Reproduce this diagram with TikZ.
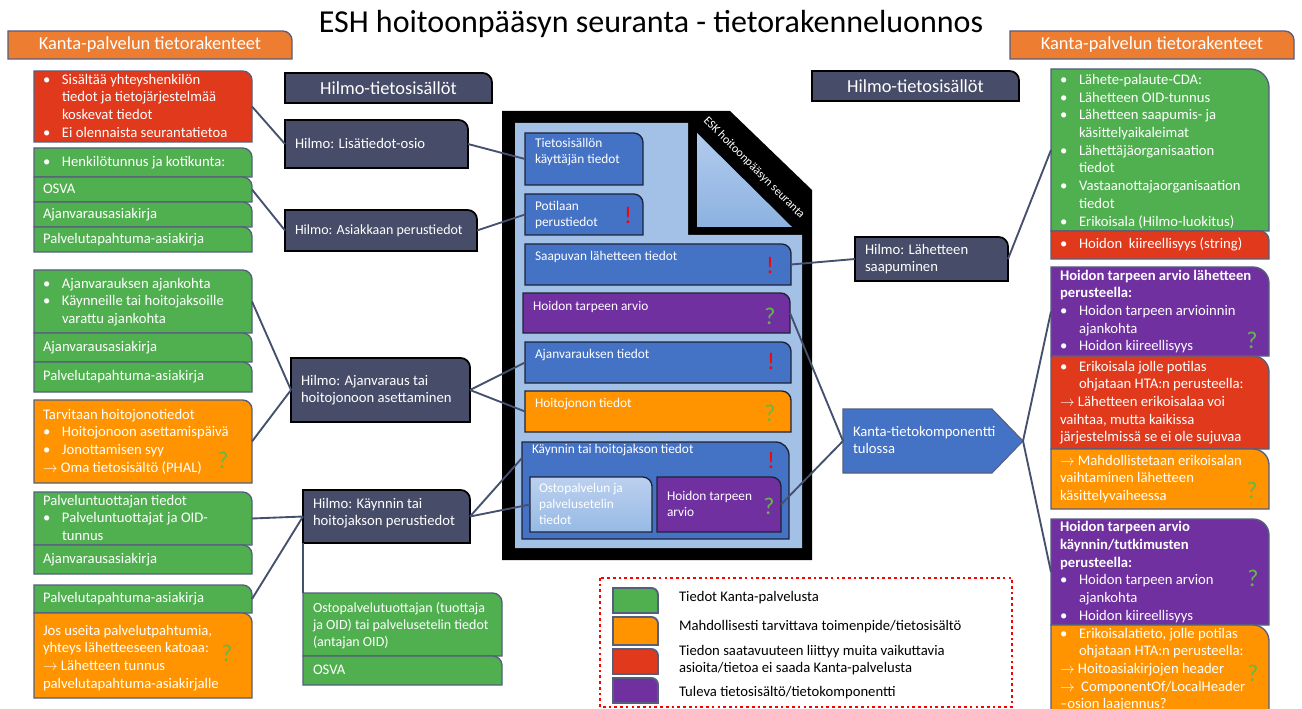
\documentclass[tikz,border=0pt]{standalone}
\usepackage{fontspec}
\setmainfont{Carlito}
\usetikzlibrary{fit}
\definecolor{cgreen}{RGB}{80,176,80}
\definecolor{cred}{RGB}{224,57,28}
\definecolor{corange}{RGB}{255,148,0}
\definecolor{chead}{RGB}{237,125,49}
\definecolor{cpurple}{RGB}{112,48,160}
\definecolor{cblue}{RGB}{68,114,196}
\definecolor{cslate}{RGB}{71,76,104}
\definecolor{cbord}{RGB}{85,95,125}
\definecolor{cdark}{RGB}{30,35,55}
\definecolor{clight}{RGB}{163,193,230}
\definecolor{cline}{RGB}{68,80,110}
\definecolor{cq}{RGB}{100,185,70}
\newcommand\fbody{\fontsize{11}{13.3}\selectfont}
\newcommand\fsmall{\fontsize{10.5}{12.4}\selectfont}
\newcommand\finner{\fontsize{10}{12}\selectfont}
\newcommand\fleg{\fontsize{11}{12.8}\selectfont}
\newcommand\fhead{\fontsize{13.8}{16}\selectfont}
\newcommand\ftitle{\fontsize{24}{28}\selectfont}
\newcommand\fdoc{\fontsize{9}{11}\selectfont}
\newcommand\fsign{\fontsize{18}{20}\selectfont}
\newcommand\bul{\makebox[14.25pt][l]{\textbullet}}
\newcommand\indd{\hspace*{14.25pt}}
\newcommand\arr{$\rightarrow$}
\newcommand\bx[7][7pt]{%
  \node[inner sep=0pt, outer sep=0pt, fit={(#3,#4) (#5,#6)}] (#2) {};
  \path[#7] (#2.north west) -- ([xshift=-#1]#2.north east)
    .. controls ([xshift=-0.45*#1]#2.north east) and ([yshift=-0.45*#1]#2.north east) ..
    ([yshift=-#1]#2.north east) -- (#2.south east) -- (#2.south west) -- cycle;
}
\tikzset{
  bgreen/.style={fill=cgreen, draw=cbord, line width=1pt},
  bred/.style={fill=cred, draw=cbord, line width=1pt},
  borange/.style={fill=corange, draw=cbord, line width=1pt},
  bpurple/.style={fill=cpurple, draw=cbord, line width=1pt},
  bhead/.style={fill=chead, draw=cbord, line width=1pt},
  bhilmo/.style={fill=cslate, draw=black, line width=1.3pt},
  binner/.style={draw=cdark, line width=1pt},
  iblue/.style={fill=cblue, binner},
  ipurple/.style={fill=cpurple, binner},
  iorange/.style={fill=corange, binner},
  ilite/.style={top color={rgb,255:red,188;green,208;blue,238}, bottom color={rgb,255:red,150;green,186;blue,228}, binner},
  lgsw/.style={draw=cbord, line width=1.4pt},
  tx/.style={anchor=north west, inner sep=0pt, outer sep=0pt, align=left, text=white, font=\fbody},
  txw/.style={anchor=west, inner sep=0pt, outer sep=0pt, align=left, text=white, font=\fbody},
  txi/.style={tx, font=\finner},
  txl/.style={tx, text=black, font=\fleg},
  excl/.style={text=red, font=\fsign, inner sep=0pt},
  ques/.style={text=cq, font=\fsign, inner sep=0pt},
  conn/.style={draw=cline, line width=1.4pt},
}
\begin{document}
\begin{tikzpicture}[x=0.75pt,y=-0.75pt]
\useasboundingbox (0,0) rectangle (1302,709);
\fill[white] (0,0) rectangle (1302,709);

% title
\node[font=\ftitle, anchor=base, inner sep=0pt] (title) at (651,33) {ESH hoitoonpääsyn seuranta - tietorakenneluonnos};

% headers
\bx{hdL}{8}{31}{292}{59}{bhead}
\node[font=\fhead, text=white, inner sep=0pt] (hdLt) at (150,45) {Kanta-palvelun tietorakenteet};
\bx{hdR}{1010}{31}{1294}{59}{bhead}
\node[font=\fhead, text=white, inner sep=0pt] (hdRt) at (1152,45) {Kanta-palvelun tietorakenteet};
\bx{hmL}{285}{73}{492}{103}{bhilmo}
\node[font=\fhead, text=white, inner sep=0pt] (hmLt) at (388.5,88) {Hilmo-tietosisällöt};
\bx{hmR}{812}{71}{1019}{101}{bhilmo}
\node[font=\fhead, text=white, inner sep=0pt] (hmRt) at (915.5,86) {Hilmo-tietosisällöt};

% left column
\bx{r1}{34}{71}{252}{142}{bred}
\node[tx] (r1t) at (43,71.6) {\strut\bul Sisältää yhteyshenkilön\\\indd tiedot ja tietojärjestelmää\\\indd koskevat tiedot\\\bul Ei olennaista seurantatietoa};
\bx{g1}{34}{148}{252}{177}{bgreen}
\node[txw] (g1t) at (43,162.5) {\strut\bul Henkilötunnus ja kotikunta:};
\bx{g2}{34}{177}{252}{202}{bgreen}
\node[txw] (g2t) at (43,189.5) {\strut OSVA};
\bx{g3}{34}{202}{252}{227}{bgreen}
\node[txw] (g3t) at (43,214.5) {\strut Ajanvarausasiakirja};
\bx{g4}{34}{227}{252}{252}{bgreen}
\node[txw] (g4t) at (43,239.5) {\strut Palvelutapahtuma-asiakirja};

\bx{g5}{34}{270}{252}{333}{bgreen}
\node[tx] (g5t) at (43,275.6) {\strut\bul Ajanvarauksen ajankohta\\\bul Käynneille tai hoitojaksoille\\\indd varattu ajankohta};
\bx{g6}{34}{333}{252}{362}{bgreen}
\node[txw] (g6t) at (43,347.5) {\strut Ajanvarausasiakirja};
\bx{g7}{34}{362}{252}{392}{bgreen}
\node[txw] (g7t) at (43,377) {\strut Palvelutapahtuma-asiakirja};
\bx{o1}{34}{400}{252}{483}{borange}
\node[tx] (o1t) at (43,406.6) {\strut Tarvitaan hoitojonotiedot\\\bul Hoitojonoon asettamispäivä\\\bul Jonottamisen syy\\\arr{} Oma tietosisältö (PHAL)};
\node[ques] (o1q) at (223,460.5) {?};

\bx{g8}{34}{492}{252}{545}{bgreen}
\node[tx] (g8t) at (43,492.6) {\strut Palveluntuottajan tiedot\\\bul Palveluntuottajat ja OID-\\\indd tunnus};
\bx{g9}{34}{545}{252}{574}{bgreen}
\node[txw] (g9t) at (43,559.5) {\strut Ajanvarausasiakirja};
\bx{g10}{34}{585}{252}{613}{bgreen}
\node[txw] (g10t) at (43,599) {\strut Palvelutapahtuma-asiakirja};
\bx{o2}{34}{613}{252}{698}{borange}
\node[tx] (o2t) at (43,622.6) {\strut Jos useita palvelutpahtumia,\\yhteys lähetteeseen katoaa:\\\arr{} Lähetteen tunnus\\palvelutapahtuma-asiakirjalle};
\node[ques] (o2q) at (227,653.5) {?};

% Hilmo boxes
\bx{h1}{285}{120}{468}{168}{bhilmo}
\node[txw] (h1t) at (295,144.5) {\strut Hilmo: Lisätiedot-osio};
\bx{h2}{285}{210}{477}{251}{bhilmo}
\node[txw, font=\fsmall] (h2t) at (295,231) {\strut Hilmo: Asiakkaan perustiedot};
\bx{h3}{291}{358}{470}{422}{bhilmo}
\node[tx] (h3t) at (301,372.6) {\strut Hilmo: Ajanvaraus tai\\hoitojonoon asettaminen};
\bx{h4}{303}{490}{470}{543}{bhilmo}
\node[tx] (h4t) at (313,495.6) {\strut Hilmo: Käynnin tai\\hoitojakson perustiedot};
\bx{h5}{855}{237}{1008}{281}{bhilmo}
\node[tx] (h5t) at (865,241.6) {\strut Hilmo: Lähetteen\\saapuminen};

% bottom green
\bx{g11}{303}{593}{502}{656}{bgreen}
\node[tx, font=\fsmall] (g11t) at (313,601.4) {\strut Ostopalvelutuottajan (tuottaja\\ja OID) tai palvelusetelin tiedot\\(antajan OID)};
\bx{g12}{303}{656}{502}{685}{bgreen}
\node[txw] (g12t) at (313,670.5) {\strut OSVA};

% document
\fill[black] (502,111) -- (730,111) -- (812,190) -- (812,560) -- (502,560) -- cycle;
\fill[clight] (515,123) -- (688,123) -- (688,235) -- (802,235) -- (802,548) -- (515,548) -- cycle;
\shade[top color={rgb,255:red,178;green,203;blue,237}, bottom color={rgb,255:red,140;green,178;blue,225}] (697,133) -- (697,227) -- (792,227) -- cycle;
\node[rotate=-45, text=white, font=\fdoc, inner sep=0pt] (doct) at (754,168) {ESK hoitoonpääsyn seuranta};

\bx{ti}{525}{133}{643}{185}{iblue}
\node[txi] (tit) at (535,136.8) {\strut Tietosisällön\\käyttäjän tiedot};
\bx{pot}{525}{194}{643}{235}{iblue}
\node[txi] (pott) at (535,199.8) {\strut Potilaan\\perustiedot};
\node[excl] (potx) at (628,215) {!};
\bx{sap}{525}{244}{791}{285}{iblue}
\node[txi] (sapt) at (535,249.5) {\strut Saapuvan lähetteen tiedot};
\node[excl] (sapx) at (770,265.5) {!};
\bx{hta}{523}{293}{790}{333}{ipurple}
\node[txi] (htat) at (533,299.5) {\strut Hoidon tarpeen arvio};
\node[ques] (htaq) at (770,316.5) {?};
\bx{ajt}{525}{342}{791}{383}{iblue}
\node[txi] (ajtt) at (535,346.8) {\strut Ajanvarauksen tiedot};
\node[excl] (ajtx) at (771,361.5) {!};
\bx{hjt}{525}{391}{791}{432}{iorange}
\node[txi] (hjtt) at (535,396.1) {\strut Hoitojonon tiedot};
\node[ques] (hjtq) at (770,413.5) {?};
\bx[10pt]{kay}{522}{442}{789}{539}{iblue}
\node[txi] (kayt) at (532,442.1) {\strut Käynnin tai hoitojakson tiedot};
\node[excl] (kayx) at (771,460.5) {!};
\bx{ost}{530}{477}{652}{532}{ilite}
\node[txi] (ostt) at (539,481.1) {\strut Ostopalvelun ja\\palvelusetelin\\tiedot};
\bx{hta2}{657}{477}{781}{532}{ipurple}
\node[txi] (hta2t) at (667,489.5) {\strut Hoidon tarpeen\\arvio};
\node[ques] (hta2q) at (769,506.5) {?};

% Kanta-tietokomponentti
\node[inner sep=0pt, outer sep=0pt, fit={(843,409) (1023,473)}] (kt) {};
\path[fill=cblue, draw=cbord, line width=0.8pt] (kt.north west) -- ([xshift=-23.25pt]kt.north east) -- (kt.east) -- ([xshift=-23.25pt]kt.south east) -- (kt.south west) -- cycle;
\node[tx] (ktt) at (853,423.6) {\strut Kanta-tietokomponentti\\tulossa};

% right column
\bx[14pt]{gR}{1051}{69}{1269}{231}{bgreen}
\node[tx] (gRt) at (1060,71.9) {\strut\bul Lähete-palaute-CDA:\\\bul Lähetteen OID-tunnus\\\bul Lähetteen saapumis- ja\\\indd käsittelyaikaleimat\\\bul Lähettäjäorganisaation\\\indd tiedot\\\bul Vastaanottajaorganisaation\\\indd tiedot\\\bul Erikoisala (Hilmo-luokitus)};
\bx{rR}{1051}{231}{1269}{259}{bred}
\node[txw] (rRt) at (1060,245) {\strut\bul Hoidon\ \ kiireellisyys (string)};
\bx[12pt]{pR1}{1051}{267}{1269}{356}{bpurple}
\node[tx] (pR1t) at (1060,267.6) {\strut\textbf{Hoidon tarpeen arvio lähetteen}\\\textbf{perusteella:}\\\bul Hoidon tarpeen arvioinnin\\\indd ajankohta\\\bul Hoidon kiireellisyys};
\node[ques] (pR1q) at (1252,340.5) {?};
\bx[12pt]{rR2}{1051}{356}{1269}{449}{bred}
\node[tx] (rR2t) at (1060,358.6) {\strut\bul Erikoisala jolle potilas\\\indd ohjataan HTA:n perusteella:\\\arr{} Lähetteen erikoisalaa voi\\vaihtaa, mutta kaikissa\\järjestelmissä se ei ole sujuvaa};
\bx[12pt]{oR1}{1051}{449}{1269}{509}{borange}
\node[tx] (oR1t) at (1060,452.6) {\strut\arr{} Mahdollistetaan erikoisalan\\vaihtaminen lähetteen\\käsittelyvaiheessa};
\node[ques] (oR1q) at (1252,490.5) {?};
\bx[12pt]{pR2}{1051}{519}{1269}{625}{bpurple}
\node[tx] (pR2t) at (1060,519.3) {\strut\textbf{Hoidon tarpeen arvio}\\\textbf{käynnin/tutkimusten}\\\textbf{perusteella:}\\\bul Hoidon tarpeen arvion\\\indd ajankohta\\\bul Hoidon kiireellisyys};
\node[ques] (pR2q) at (1253,578) {?};
\bx[12pt]{oR2}{1051}{625}{1269}{716}{borange}
\node[tx] (oR2t) at (1060,625.6) {\strut\bul Erikoisalatieto, jolle potilas\\\indd ohjataan HTA:n perusteella:\\\arr{} Hoitoasiakirjojen header\\\arr{}\ \ ComponentOf/LocalHeader\\--osion laajennus?};
\node[ques] (oR2q) at (1253,673.5) {?};

% legend
\draw[red, line width=2pt, dash pattern=on 2pt off 2.3pt] (600,578) rectangle (1012,707);
\bx[5pt]{lg1}{613}{588}{658}{613}{fill=cgreen, lgsw}
\bx[5pt]{lg2}{613}{617}{658}{645}{fill=corange, lgsw}
\bx[5pt]{lg3}{613}{649}{658}{674}{fill=cred, lgsw}
\bx[5pt]{lg4}{613}{678}{658}{703}{fill=cpurple, lgsw}
\node[txl] (lg1t) at (679,589.1) {\strut Tiedot Kanta-palvelusta};
\node[txl] (lg2t) at (679,618.1) {\strut Mahdollisesti tarvittava toimenpide/tietosisältö};
\node[txl] (lg3t) at (679,643.1) {\strut Tiedon saatavuuteen liittyy muita vaikuttavia\\asioita/tietoa ei saada Kanta-palvelusta};
\node[txl] (lg4t) at (679,684.1) {\strut Tuleva tietosisältö/tietokomponentti};

% connectors
\draw[conn] (r1.east) -- (h1.west);
\draw[conn] (h1.east) -- (ti.west);
\draw[conn] (g2.east) -- (h2.west);
\draw[conn] (h2.east) -- (pot.west);
\draw[conn] (g5.east) -- (h3.west);
\draw[conn] (o1.east) -- (h3.west);
\draw[conn] (h3.east) -- (ajt.west);
\draw[conn] (h3.east) -- (hjt.west);
\draw[conn] (g8.east) -- (h4.west);
\draw[conn] (g10.east) -- (h4.west);
\draw[conn] (h4.east) -- ([yshift=-12pt]kay.north west);
\draw[conn] (h4.east) -- (ost.west);
\draw[conn] (h4.south west) -- (g11.north west);
\draw[conn] (sap.east) -- (h5.west);
\draw[conn] (h5.east) -- (gR.west);
\draw[conn] (hta.east) -- (kt.west);
\draw[conn] (hta2.east) -- (kt.west);
\draw[conn] (kt.east) -- (pR1.west);
\draw[conn] (kt.east) -- (pR2.west);
\end{tikzpicture}
\end{document}
